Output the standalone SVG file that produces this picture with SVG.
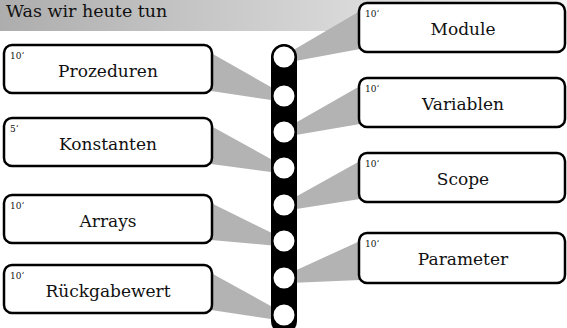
<svg xmlns="http://www.w3.org/2000/svg" width="567" height="328" viewBox="0 0 567 328">
<defs>
<linearGradient id="tg" x1="0" y1="0" x2="1" y2="0">
<stop offset="0" stop-color="#adadad"/>
<stop offset="1" stop-color="#f4f4f4"/>
</linearGradient>
<style>
.box{fill:#fff;stroke:#000;stroke-width:2.5}
.lbl{font-family:"DejaVu Serif","Liberation Serif",serif;font-size:17px;fill:#111;text-anchor:middle}
.min{font-family:"DejaVu Serif","Liberation Serif",serif;font-size:9px;fill:#111}
.w{fill:#b3b3b3;stroke:none}
.dot{fill:#fff;stroke:#000;stroke-width:2}
</style>
</defs>
<rect x="0" y="0" width="567" height="31" fill="url(#tg)"/>
<text x="6" y="17" style="font-family:'DejaVu Serif','Liberation Serif',serif;font-size:17.5px;fill:#111">Was wir heute tun</text>
<g id="connectors">
<polygon class="w" points="360,11 360,49 290,62 290,52"/>
<polygon class="w" points="211,53 211,91 278,101 278,91"/>
<polygon class="w" points="360,86 360,124 290,136 290,126"/>
<polygon class="w" points="211,126 211,164 278,173 278,163"/>
<polygon class="w" points="360,161 360,199 290,210 290,200"/>
<polygon class="w" points="211,203 211,240 278,246 278,236"/>
<polygon class="w" points="360,241 360,280 290,283 290,273"/>
<polygon class="w" points="211,273 211,310 278,320 278,310"/>
</g>
<g id="bar">
<rect x="271" y="44" width="26" height="290" rx="13" fill="#000"/>
<circle class="dot" cx="284" cy="57" r="11.5"/>
<circle class="dot" cx="284" cy="96" r="11.5"/>
<circle class="dot" cx="284" cy="132" r="11.5"/>
<circle class="dot" cx="284" cy="168" r="11.5"/>
<circle class="dot" cx="284" cy="205" r="11.5"/>
<circle class="dot" cx="284" cy="241" r="11.5"/>
<circle class="dot" cx="284" cy="278" r="11.5"/>
<circle class="dot" cx="284" cy="315" r="11.5"/>
</g>
<g id="module"><rect class="box" x="359" y="3" width="206" height="49" rx="8"/><text class="min" x="365" y="17">10‘</text><text class="lbl" x="463" y="35">Module</text></g>
<g id="prozeduren"><rect class="box" x="4" y="45" width="208" height="48" rx="8"/><text class="min" x="10" y="59">10‘</text><text class="lbl" x="108" y="77">Prozeduren</text></g>
<g id="variablen"><rect class="box" x="359" y="78" width="206" height="49" rx="8"/><text class="min" x="365" y="92">10‘</text><text class="lbl" x="463" y="110">Variablen</text></g>
<g id="konstanten"><rect class="box" x="4" y="118" width="208" height="48" rx="8"/><text class="min" x="10" y="132">5‘</text><text class="lbl" x="108" y="150">Konstanten</text></g>
<g id="scope"><rect class="box" x="359" y="153" width="206" height="49" rx="8"/><text class="min" x="365" y="167">10‘</text><text class="lbl" x="463" y="185">Scope</text></g>
<g id="arrays"><rect class="box" x="4" y="195" width="208" height="48" rx="8"/><text class="min" x="10" y="209">10‘</text><text class="lbl" x="108" y="227">Arrays</text></g>
<g id="parameter"><rect class="box" x="359" y="233" width="206" height="50" rx="8"/><text class="min" x="365" y="247">10‘</text><text class="lbl" x="463" y="265">Parameter</text></g>
<g id="rueckgabewert"><rect class="box" x="4" y="265" width="208" height="48" rx="8"/><text class="min" x="10" y="279">10‘</text><text class="lbl" x="108" y="297">Rückgabewert</text></g>
</svg>
